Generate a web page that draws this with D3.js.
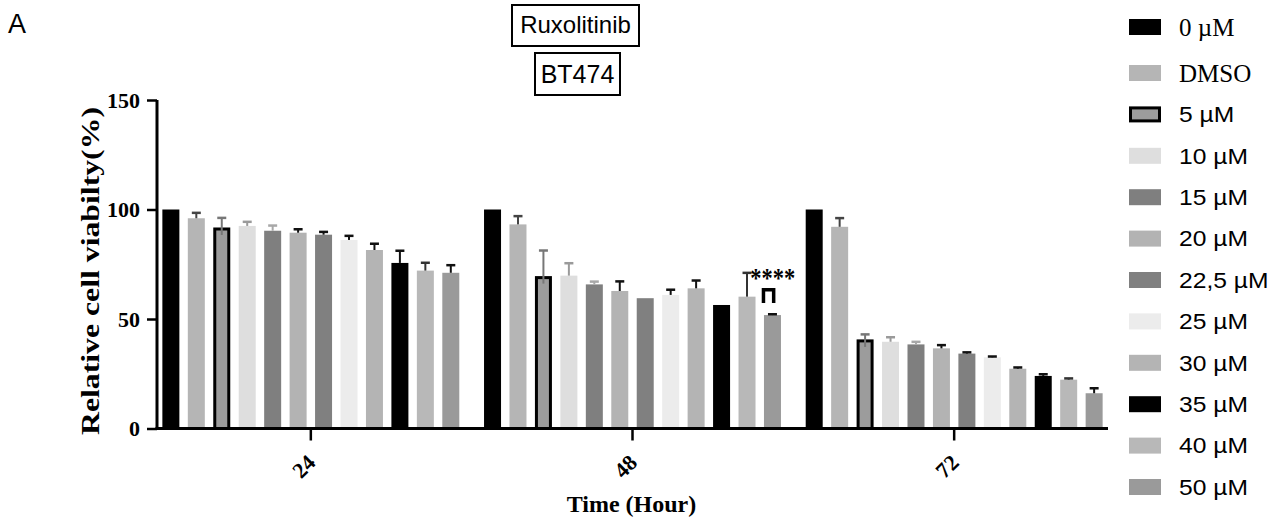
<!DOCTYPE html>
<html><head><meta charset="utf-8">
<script src="https://cdn.jsdelivr.net/npm/d3@7"></script>
<style>body{margin:0;background:#fff}svg{display:block}</style>
</head><body>
<svg id="chart" width="1285" height="522"></svg>
<script>
const timepoints = ["24", "48", "72"];
const concentrations = ["0 µM","DMSO","5 µM","10 µM","15 µM","20 µM","22,5 µM","25 µM","30 µM","35 µM","40 µM","50 µM"];
const viability24 = [100, 96.0, 91.1, 92.5, 90.3, 89.4, 88.5, 86.1, 81.5, 75.6, 72.1, 71.1];
const sd24        = [0,   2.7,  5.3,  2.1,  2.6,  1.8,  1.5,  2.1,  3.1,  5.8,  3.8,  3.7];
const viability48 = [100, 93.2, 68.9, 69.8, 65.8, 62.8, 59.5, 61.0, 64.0, 56.4, 60.2, 51.8];
const sd48        = [0,   4.0, 12.6,  5.9,  1.5,  4.6,  0,    2.6,  3.8,  0,   11.1,  0.6];
const viability72 = [100, 92.1, 40.0, 39.6, 38.4, 36.6, 34.2, 32.5, 27.3, 24.0, 22.3, 16.1];
const sd72        = [0,   4.2,  3.2,  2.3,  1.4,  1.7,  0.8,  0.6,  0.8,  1.0,  0.8,  2.5];
const yTicks = [0, 50, 100, 150];
const barColors = ["#000000","#b5b5b5","#9c9c9c","#dedede","#7f7f7f","#b3b3b3","#808080","#ececec","#b4b4b4","#000000","#b8b8b8","#9a9a9a"];
const errColors = ["#000","#444","#777","#9a9a9a","#a8a8a8","#111","#111","#111","#111","#111","#333","#111"];
const outlined = "5 µM";

const valuesByTime = {"24": viability24, "48": viability48, "72": viability72};
const sdByTime = {"24": sd24, "48": sd48, "72": sd72};
const rows = [];
timepoints.forEach(t => concentrations.forEach((c, i) => rows.push({t, c, i, v: valuesByTime[t][i], sd: sdByTime[t][i]})));

const svg = d3.select("#chart");
const serif = "'Liberation Serif','Times New Roman',serif";
const sans = "'Liberation Sans',Arial,sans-serif";

const x = d3.scaleBand().domain(timepoints).range([150, 1115]).padding(0);
const xi = d3.scaleBand().domain(concentrations).range([0, x.bandwidth()]).paddingInner(0.332).paddingOuter(0.486);
const y = d3.scaleLinear().domain([0, 150]).range([428.5, 100]);
const color = d3.scaleOrdinal().domain(concentrations).range(barColors);
const ecolor = d3.scaleOrdinal().domain(concentrations).range(errColors);
const axisX0 = 157;

// bars
const g = svg.append("g");
g.selectAll("rect.bar").data(rows).join("rect")
  .attr("class", "bar")
  .attr("x", d => x(d.t) + xi(d.c) + (d.c === outlined ? 1.5 : 0))
  .attr("width", d => xi.bandwidth() - (d.c === outlined ? 3 : 0))
  .attr("y", d => y(d.v))
  .attr("height", d => y(0) - y(d.v))
  .attr("fill", d => color(d.c))
  .attr("stroke", d => d.c === outlined ? "#000" : "none")
  .attr("stroke-width", 3);

// error bars (upper only)
const eb = rows.filter(d => d.sd > 0);
g.selectAll("line.stem").data(eb).join("line")
  .attr("x1", d => x(d.t) + xi(d.c) + xi.bandwidth() / 2)
  .attr("x2", d => x(d.t) + xi(d.c) + xi.bandwidth() / 2)
  .attr("y1", d => y(d.v) + (d.c === outlined ? 6 : 0))
  .attr("y2", d => y(d.v + d.sd))
  .attr("stroke", d => ecolor(d.c)).attr("stroke-width", 2);
g.selectAll("line.cap").data(eb).join("line")
  .attr("x1", d => x(d.t) + xi(d.c) + xi.bandwidth() / 2 - 4.5)
  .attr("x2", d => x(d.t) + xi(d.c) + xi.bandwidth() / 2 + 4.5)
  .attr("y1", d => y(d.v + d.sd) + 0.5)
  .attr("y2", d => y(d.v + d.sd) + 0.5)
  .attr("stroke", d => ecolor(d.c)).attr("stroke-width", 2.5);

// y axis
const yAxis = svg.append("g").attr("transform", `translate(${axisX0},0)`)
  .call(d3.axisLeft(y).tickValues(yTicks).tickSize(10).tickPadding(7));
yAxis.select(".domain").attr("stroke-width", 3).attr("d", `M0,${y(150)}V${y(0) + 1.5}`);
yAxis.selectAll(".tick line").attr("stroke-width", 2.5);
yAxis.selectAll(".tick text").attr("font-family", serif).attr("font-weight", "bold").attr("font-size", 22).attr("fill", "#000");

// x axis
const xAxis = svg.append("g").attr("transform", `translate(0,${y(0)})`)
  .call(d3.axisBottom(x).tickSize(12).tickFormat(""));
xAxis.select(".domain").attr("stroke-width", 3).attr("d", `M${axisX0 - 1.5},0H1108`);
xAxis.selectAll(".tick line").attr("stroke-width", 2.5);
svg.append("g").selectAll("text").data(timepoints).join("text")
  .attr("transform", d => `translate(${x(d) + x.bandwidth() / 2 + 6},464) rotate(-45)`)
  .attr("text-anchor", "end")
  .attr("font-family", serif).attr("font-weight", "bold").attr("font-size", 22)
  .text(d => d);

// axis titles
svg.append("text").attr("x", 631.5).attr("y", 512).attr("text-anchor", "middle")
  .attr("font-family", serif).attr("font-weight", "bold").attr("font-size", 24)
  .text("Time (Hour)");
svg.append("text").attr("transform", "translate(99,271) rotate(-90)").attr("text-anchor", "middle")
  .attr("font-family", serif).attr("font-weight", "bold").attr("font-size", 25)
  .attr("textLength", 328).attr("lengthAdjust", "spacingAndGlyphs")
  .text("Relative cell viabilty(%)");

// significance
const bx = x("48") + xi("50 µM");
svg.append("path")
  .attr("d", `M${bx - 0.5},${y(57.3)}V${y(63.4)}H${bx + 9.7}V${y(57.3)}`)
  .attr("fill", "none").attr("stroke", "#000").attr("stroke-width", 3.5);
svg.append("text").attr("x", bx + 8.7).attr("y", y(64.5)).attr("text-anchor", "middle")
  .attr("font-family", serif).attr("font-weight", "bold").attr("font-size", 27)
  .attr("textLength", 45).attr("lengthAdjust", "spacingAndGlyphs")
  .text("****");

// title boxes
svg.append("rect").attr("x", 512).attr("y", 5).attr("width", 127).attr("height", 41)
  .attr("fill", "none").attr("stroke", "#000").attr("stroke-width", 2);
svg.append("text").attr("x", 575.5).attr("y", 33).attr("text-anchor", "middle")
  .attr("font-family", sans).attr("font-size", 24).text("Ruxolitinib");
svg.append("rect").attr("x", 535).attr("y", 53).attr("width", 85).attr("height", 42)
  .attr("fill", "none").attr("stroke", "#000").attr("stroke-width", 2);
svg.append("text").attr("x", 577.5).attr("y", 83).attr("text-anchor", "middle")
  .attr("font-family", sans).attr("font-size", 25).text("BT474");

// panel letter
svg.append("text").attr("x", 8).attr("y", 33).attr("font-family", sans).attr("font-size", 27).text("A");

// legend
const ly = i => i === 0 ? 27 : 73 + (i - 1) * 41.4;
const leg = svg.append("g").selectAll("g").data(concentrations).join("g")
  .attr("transform", (d, i) => `translate(1129,${ly(i)})`);
leg.append("rect")
  .attr("x", d => d === outlined ? 1.5 : 0)
  .attr("y", d => d === outlined ? -6.5 : -8)
  .attr("width", d => d === outlined ? 29 : 32)
  .attr("height", d => d === outlined ? 13 : 16)
  .attr("fill", d => color(d))
  .attr("stroke", d => d === outlined ? "#000" : "none").attr("stroke-width", 3);
leg.append("text")
  .attr("transform", (d, i) => i < 2 ? "translate(50,0)" : "translate(50,0) scale(1.12,1)")
  .attr("dy", "0.35em")
  .attr("font-family", (d, i) => i < 2 ? serif : sans)
  .attr("font-size", (d, i) => i < 2 ? 25 : 22)
  .text(d => d);
</script>
</body></html>
